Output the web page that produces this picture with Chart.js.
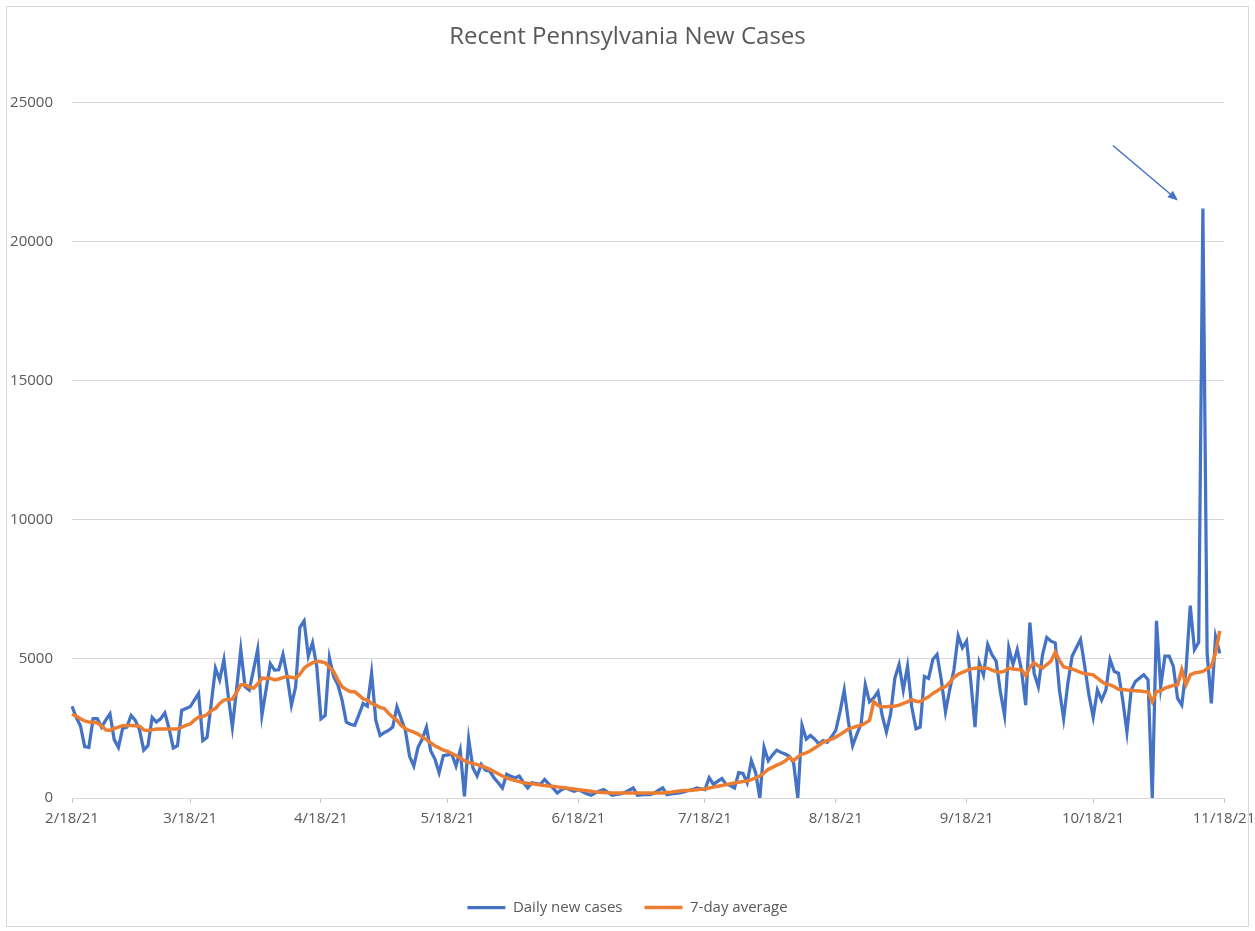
<!DOCTYPE html>
<html>
<head>
<meta charset="utf-8">
<title>Recent Pennsylvania New Cases</title>
<script src="https://cdn.jsdelivr.net/npm/chart.js@4.4.1/dist/chart.umd.min.js"></script>
<style>
  html, body { margin: 0; padding: 0; background: #fff; }
  #wrap { position: relative; width: 1255px; height: 931px; }
  #frame { position: absolute; left: 6px; top: 6px; width: 1243px; height: 921px;
           border: 1px solid #d9d9d9; box-sizing: border-box; pointer-events: none; }
</style>
</head>
<body>
<div id="wrap">
  <canvas id="myChart" width="1255" height="931"></canvas>
  <div id="frame"></div>
</div>
<script>
// one label per day, 2/18/21 .. 11/18/21
const startDate = new Date(2021, 1, 18);
const dayCount = 274;
const dayLabels = [];
for (let i = 0; i < dayCount; i++) {
    const d = new Date(startDate.getFullYear(), startDate.getMonth(), startDate.getDate() + i);
    dayLabels.push((d.getMonth() + 1) + '/' + d.getDate() + '/' + String(d.getFullYear()).slice(2));
}
const tickDay = 18; // axis labelled on the 18th of each month

const dailyCases = [
    3300, 2900, 2600, 1850, 1820, 2850, 2850,
    2550, 2800, 3030, 2100, 1820, 2500, 2550,
    2970, 2790, 2450, 1720, 1880, 2900, 2730,
    2850, 3060, 2500, 1800, 1880, 3150, 3220,
    3280, 3520, 3760, 2060, 2180, 3400, 4670,
    4250, 4980, 3700, 2550, 3900, 5340, 4000,
    3880, 4600, 5340, 2970, 3900, 4830, 4600,
    4610, 5160, 4370, 3340, 4000, 6130, 6370,
    5100, 5580, 4730, 2850, 2970, 5040, 4370,
    4070, 3520, 2730, 2650, 2610, 3000, 3400,
    3300, 4490, 2790, 2250, 2350, 2430, 2550,
    3280, 2850, 2430, 1500, 1150, 1820, 2120,
    2550, 1700, 1400, 910, 1520, 1550, 1580,
    1150, 1720, 60, 2120, 1090, 790, 1210,
    1000, 970, 730, 550, 360, 850, 780,
    730, 790, 550, 360, 550, 520, 490,
    670, 500, 360, 180, 300, 360, 300,
    240, 300, 220, 150, 100, 180, 250,
    300, 200, 100, 130, 150, 200, 280,
    360, 100, 110, 130, 120, 180, 280,
    360, 120, 150, 170, 180, 220, 270,
    300, 360, 330, 300, 730, 490, 600,
    700, 490, 450, 360, 910, 880, 550,
    1340, 910, 0, 1820, 1340, 1550, 1720,
    1640, 1580, 1500, 1270, 0, 2610, 2120,
    2250, 2120, 1940, 2060, 2000, 2200, 2430,
    3100, 3880, 2730, 1880, 2300, 2670, 4070,
    3460, 3600, 3820, 2970, 2370, 3035, 4310,
    4800, 3880, 4730, 3280, 2490, 2550, 4370,
    4300, 4980, 5160, 4250, 3100, 3900, 4610,
    5830, 5400, 5640, 4190, 2550, 4860, 4430,
    5520, 5160, 4920, 3820, 2970, 5400, 4800,
    5340, 4610, 3340, 6310, 4490, 4000, 5160,
    5770, 5640, 5580, 3880, 2850, 4130, 5100,
    5400, 5700, 4730, 3700, 2910, 3880, 3520,
    3880, 4980, 4550, 4490, 3520, 2370, 3880,
    4190, 4310, 4430, 4250, 0, 6370, 4000,
    5100, 5100, 4730, 3580, 3340, 4610, 6920,
    5340, 5600, 21200, 5200, 3400, 5800, 5200
];

const sevenDayAvg = [
    3010, 2950, 2850, 2770, 2730, 2720, 2700,
    2600, 2450, 2430, 2500, 2550, 2600, 2610,
    2610, 2600, 2580, 2450, 2430, 2450, 2480,
    2480, 2480, 2480, 2480, 2480, 2550, 2610,
    2660, 2800, 2910, 2930, 3000, 3150, 3220,
    3400, 3520, 3540, 3560, 3800, 4070, 4070,
    4000, 3950, 4100, 4310, 4300, 4310, 4250,
    4280, 4330, 4370, 4340, 4310, 4450, 4670,
    4780, 4860, 4920, 4900, 4860, 4700, 4550,
    4250, 4000, 3900, 3820, 3820, 3700, 3560,
    3520, 3400, 3340, 3260, 3220, 3050, 2910,
    2800, 2610, 2500, 2420, 2370, 2300, 2190,
    2100, 1980, 1880, 1800, 1720, 1680, 1600,
    1530, 1440, 1340, 1280, 1230, 1210, 1150,
    1100, 1030, 950, 870, 790, 720, 670,
    630, 590, 550, 530, 510, 490, 470,
    450, 430, 420, 400, 380, 360, 340,
    320, 300, 280, 260, 240, 220, 210,
    200, 190, 180, 180, 180, 180, 180,
    180, 180, 180, 180, 180, 180, 180,
    180, 200, 210, 230, 250, 270, 270,
    280, 300, 310, 330, 360, 390, 420,
    450, 480, 510, 540, 570, 590, 610,
    660, 720, 790, 900, 1030, 1100, 1180,
    1240, 1330, 1460, 1340, 1480, 1580, 1620,
    1700, 1800, 1900, 2000, 2060, 2120, 2190,
    2280, 2380, 2490, 2530, 2580, 2610, 2700,
    2790, 3460, 3330, 3280, 3280, 3300, 3300,
    3340, 3400, 3460, 3540, 3480, 3460, 3560,
    3640, 3760, 3850, 3950, 4000, 4150, 4340,
    4450, 4520, 4580, 4640, 4670, 4680, 4670,
    4670, 4600, 4550, 4520, 4560, 4670, 4640,
    4620, 4610, 4400, 4700, 4860, 4750, 4670,
    4800, 4920, 5240, 4950, 4710, 4680, 4640,
    4580, 4520, 4470, 4450, 4430, 4310, 4190,
    4100, 4070, 4000, 3910, 3900, 3880, 3870,
    3860, 3850, 3830, 3820, 3460, 3820, 3850,
    3950, 4000, 4050, 4070, 4610, 4070, 4430,
    4500, 4520, 4550, 4650, 4730, 5220, 6010
];

const yTicks = [0, 5000, 10000, 15000, 20000, 25000];

const textGray = '#595959';
const gridGray = '#d9d9d9';
const blue = '#4472C4';
const orange = '#ED7D31';

// arrow pointing at the biggest daily value
const spikeArrow = {
    id: 'spikeArrow',
    afterDatasetsDraw(chart) {
        const { ctx, scales: { x, y } } = chart;
        const peak = Math.max(...dailyCases);
        const i = dailyCases.indexOf(peak);
        const px = x.getPixelForValue(i);
        const py = y.getPixelForValue(peak);
        const x1 = px - 90, y1 = py - 63;
        const x2 = px - 25, y2 = py - 8;
        const ang = Math.atan2(y2 - y1, x2 - x1);
        const head = 11;
        ctx.save();
        ctx.strokeStyle = blue;
        ctx.fillStyle = blue;
        ctx.lineWidth = 1.5;
        ctx.beginPath();
        ctx.moveTo(x1, y1);
        ctx.lineTo(x2 - Math.cos(ang) * head * 0.8, y2 - Math.sin(ang) * head * 0.8);
        ctx.stroke();
        ctx.beginPath();
        ctx.moveTo(x2, y2);
        ctx.lineTo(x2 - head * Math.cos(ang - 0.4), y2 - head * Math.sin(ang - 0.4));
        ctx.lineTo(x2 - head * Math.cos(ang + 0.4), y2 - head * Math.sin(ang + 0.4));
        ctx.closePath();
        ctx.fill();
        ctx.restore();
    }
};

Chart.defaults.font.family = '"Open Sans", "Liberation Sans", sans-serif';
Chart.defaults.color = textGray;

const ctx = document.getElementById('myChart');

new Chart(ctx, {
    type: 'line',
    data: {
        labels: dayLabels,
        datasets: [{
            label: 'Daily new cases',
            data: dailyCases,
            borderColor: blue,
            backgroundColor: blue,
            borderWidth: 3.25,
            pointRadius: 0,
            tension: 0,
            order: 2
        }, {
            label: '7-day average',
            data: sevenDayAvg,
            borderColor: orange,
            backgroundColor: orange,
            borderWidth: 3.5,
            pointRadius: 0,
            tension: 0,
            order: 1
        }]
    },
    options: {
        responsive: false,
        animation: false,
        devicePixelRatio: 1,
        layout: {
            padding: { left: 0, right: 0, top: 0, bottom: 6 }
        },
        scales: {
            x: {
                type: 'category',
                offset: false,
                grid: {
                    drawOnChartArea: false,
                    drawTicks: true,
                    tickLength: 5,
                    color: '#c8c8c8'
                },
                border: { display: true, color: gridGray, width: 1 },
                ticks: {
                    autoSkip: false,
                    maxRotation: 0,
                    padding: 7,
                    color: textGray,
                    font: { size: 15 },
                    callback: function (value, index) {
                        const parts = dayLabels[index].split('/');
                        return Number(parts[1]) === tickDay ? dayLabels[index] : null;
                    }
                },
                afterFit: function (scale) {
                    scale.height = 80;
                    scale.paddingLeft = 0;
                    scale.paddingRight = 31; // keeps the plot edge at 11/18
                }
            },
            y: {
                min: 0,
                max: 25000,
                afterBuildTicks: function (scale) {
                    scale.ticks = yTicks.map(v => ({ value: v }));
                },
                grid: { color: gridGray, drawTicks: false },
                border: { display: false },
                ticks: {
                    padding: 19,
                    color: textGray,
                    font: { size: 15 },
                    callback: function (value) {
                        return String(value);
                    }
                },
                afterFit: function (scale) {
                    scale.width = 72;
                }
            }
        },
        plugins: {
            title: {
                display: true,
                text: 'Recent Pennsylvania New Cases',
                color: textGray,
                font: { size: 24, weight: 'normal' },
                padding: { top: 23, bottom: 51 }
            },
            legend: {
                position: 'bottom',
                labels: {
                    usePointStyle: true,
                    pointStyle: 'line',
                    pointStyleWidth: 38,
                    padding: 22,
                    color: textGray,
                    font: { size: 15 },
                    sort: (a, b) => a.datasetIndex - b.datasetIndex
                }
            },
            tooltip: { enabled: false }
        }
    },
    plugins: [spikeArrow]
});
</script>
</body>
</html>
